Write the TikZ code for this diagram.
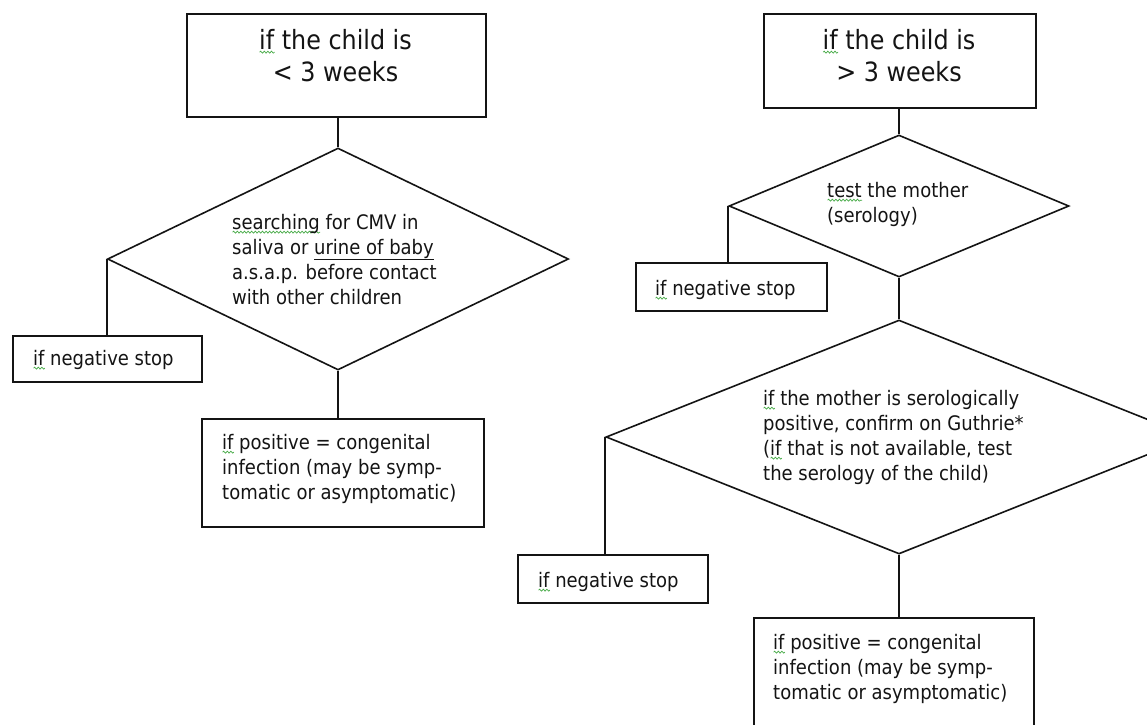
\documentclass[tikz,border=0pt]{standalone}
\usepackage{fontspec}
\setmainfont{DejaVu Sans}[FakeStretch=0.9]
\usetikzlibrary{shapes.geometric,decorations.pathmorphing}
\definecolor{sqgreen}{RGB}{70,170,70}
\definecolor{ink}{RGB}{20,20,20}
\newlength\sqw
\newcommand\sq[1]{\leavevmode\settowidth\sqw{#1}\rlap{\raisebox{-4.5pt}{\tikz[x=1pt,y=1pt]\draw[sqgreen,line width=0.7pt,decorate,decoration={snake,amplitude=1pt,segment length=3.6pt}] (0,0)--(\sqw,0);}}#1}
\tikzset{
  box/.style={draw=ink, rectangle, inner sep=0pt, anchor=north west},
  dia/.style={draw=ink, diamond, inner sep=0pt, aspect=2},
  body/.style={anchor=base west, inner sep=0pt, align=left, text=ink,
    font=\fontsize{20}{25}\selectfont},
  title/.style={anchor=base, inner sep=0pt, align=center, text=ink,
    font=\fontsize{26.5}{32.5}\selectfont},
  conn/.style={draw=ink},
}
\begin{document}
% note: the base anchor of a multi-line node lies on its last line
\begin{tikzpicture}[x=1pt, y=-1pt, line width=1.6pt]
\useasboundingbox (0,0) rectangle (1147,724);
\clip (0,0) rectangle (1147,724);
\fill[white] (0,0) rectangle (1147,724);

% ---------- left branch ----------
\node[box, minimum width=299, minimum height=103] (b1) at (186,13) {};
\node[title] (tb1) at (335.5,81.5) {\sq{if} the child is\\< 3 weeks};

\node[dia, minimum width=461, minimum height=222] (d1) at (338,259) {};
\node[body] (td1) at (232,304) {\sq{searching} for CMV in\\saliva or \underline{urine of baby}\\a.s.a.p. before contact\\with other children};

\node[box, minimum width=189, minimum height=46] (n1) at (12,335) {};
\node[body] (tn1) at (33,365) {\sq{if} negative stop};

\node[box, minimum width=282, minimum height=108] (p1) at (201,418) {};
\node[body] (tp1) at (222,499) {\sq{if} positive = congenital\\infection (may be symp-\\tomatic or asymptomatic)};

\draw[conn] (b1.south -| d1.north) -- (d1.north);
\draw[conn] (d1.west) -- (d1.west |- n1.north);
\draw[conn] (d1.south) -- (d1.south |- p1.north);

% ---------- right branch ----------
\node[box, minimum width=272, minimum height=94] (b2) at (763,13) {};
\node[title] (tb2) at (899,81.5) {\sq{if} the child is\\> 3 weeks};

\node[dia, minimum width=340, minimum height=142] (d2) at (899,206) {};
\node[body] (td2) at (827,222) {\sq{test} the mother\\(serology)};

\node[box, minimum width=191, minimum height=48] (n2) at (635,262) {};
\node[body] (tn2) at (655,295) {\sq{if} negative stop};

\node[dia, minimum width=586, minimum height=234] (d3) at (899,437) {};
\node[body] (td3) at (763,480) {\sq{if} the mother is serologically\\positive, confirm on Guthrie*\\(\sq{if} that is not available, test\\the serology of the child)};

\node[box, minimum width=190, minimum height=48] (n3) at (517,554) {};
\node[body] (tn3) at (538,587) {\sq{if} negative stop};

\node[box, minimum width=280, minimum height=110] (p2) at (753,617) {};
\node[body] (tp2) at (773,699) {\sq{if} positive = congenital\\infection (may be symp-\\tomatic or asymptomatic)};

\draw[conn] (b2.south -| d2.north) -- (d2.north);
\draw[conn] (d2.west) -- (d2.west |- n2.north);
\draw[conn] (d2.south) -- (d3.north);
\draw[conn] (d3.west) -- (d3.west |- n3.north);
\draw[conn] (d3.south) -- (d3.south |- p2.north);
\end{tikzpicture}
\end{document}
